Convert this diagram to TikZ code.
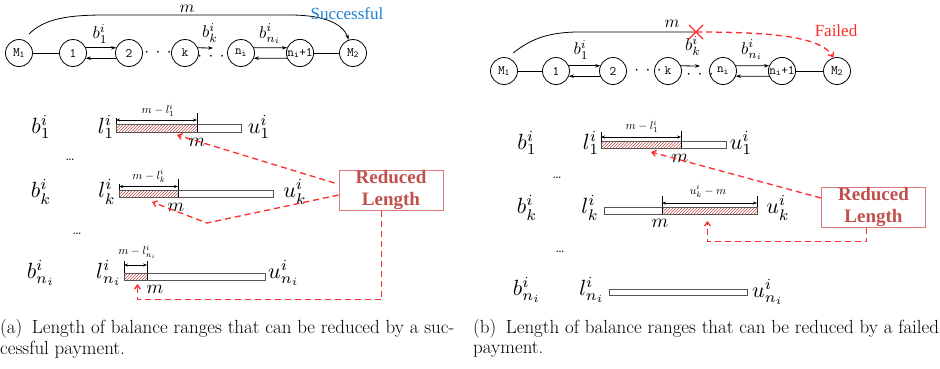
\documentclass[tikz,border=0pt]{standalone}
\usepackage{fontspec}
\newfontfamily\timesf{Liberation Serif}
\usetikzlibrary{arrows.meta,patterns}
\definecolor{blueS}{HTML}{1F7FCF}
\definecolor{redL}{HTML}{C0504D}
\definecolor{redB}{HTML}{D9797A}
\definecolor{redD}{HTML}{FF2A2A}
\definecolor{barC}{HTML}{555555}
\begin{document}
\begin{tikzpicture}[x=1pt,y=-1pt,
  nd/.style={circle,draw,line width=0.8pt,minimum size=27pt,inner sep=0pt,font=\fontsize{13}{15}\selectfont\ttfamily},
  tip/.style={-{Stealth[length=5pt,width=3.5pt]},line width=0.8pt},
  lab/.style={inner sep=0pt,scale=1.7},
  big/.style={inner sep=0pt,scale=2.2},
  mm/.style={inner sep=0pt,scale=1.9},
  dim/.style={inner sep=0pt,scale=1.15},
  dots/.style={inner sep=0pt,scale=1.4},
  dimar/.style={{Stealth[length=4pt,width=3pt]}-{Stealth[length=4pt,width=3pt]},line width=0.6pt},
  tick/.style={line width=0.6pt},
  bar/.style={draw=barC,line width=0.8pt},
  hat/.style={fill=redL!15,pattern=north east lines,pattern color=redL},
  rd/.style={draw=redD,dash pattern=on 6pt off 4pt,line width=1.3pt,-{Straight Barb[length=4pt,width=6pt]}},
  rbox/.style={draw=redB,line width=1pt,minimum width=104pt,minimum height=40pt,inner sep=0pt,align=center,text=redL,font=\fontsize{19}{22}\selectfont\timesf\bfseries},
  captext/.style={anchor=west,inner sep=0pt,font=\fontsize{19}{22}\selectfont}
]
\useasboundingbox (0,0) rectangle (940,368);

% ---------- top left ----------
\node[nd] (a1) at (19,53) {M$_\mathtt{1}$};
\node[nd] (a2) at (73,53) {1};
\node[nd] (a3) at (129,53) {2};
\node[nd] (ak) at (185,53) {k};
\node[nd] (an) at (241,53) {n$_\mathtt{i}$};
\node[nd] (an1) at (300,53) {n$_\mathtt{i}$+1};
\node[nd] (a4) at (353,53) {M$_\mathtt{2}$};
\draw[line width=0.8pt] (a1) -- (a2);
\draw[line width=0.8pt] (an1) -- (a4);
\draw[tip] (a2.22) -- (a3.158);
\draw[tip] (a3.-158) -- (a2.-22);
\draw[tip] (an.22) -- (an1.158);
\draw[tip] (an1.-158) -- (an.-22);
\coordinate (akt) at (213,48);
\draw[tip] (ak.22) -- (akt);
\node[lab] (ad1) at (158,53) {$\cdot\,\cdot\,\cdot$};
\node[lab] (ad2) at (211,57) {$\cdot\,\cdot\,\cdot$};
\node[lab] (ab1) at (100,34) {$b_1^i$};
\node[lab] (abk) at (210,33) {$b_k^i$};
\node[lab] (abn) at (270,34) {$b_{n_i}^i$};
\coordinate (ams) at (29,34);
\draw[tip] (ams) .. controls (45,18) and (70,15) .. (105,15) -- (290,15) .. controls (325,15) and (343,24) .. (a4.108);
\node[lab] (am) at (187,9) {$m$};
\node[inner sep=0pt,text=blueS,font=\fontsize{17}{20}\selectfont\timesf] (succ) at (347,14) {Successful};

% ---------- top right ----------
\node[nd] (b1) at (504,71) {M$_\mathtt{1}$};
\node[nd] (b2) at (556,71) {1};
\node[nd] (b3) at (613,71) {2};
\node[nd] (bk) at (668,71) {k};
\node[nd] (bn) at (723,71) {n$_\mathtt{i}$};
\node[nd] (bn1) at (782,71) {n$_\mathtt{i}$+1};
\node[nd] (b4) at (837,71) {M$_\mathtt{2}$};
\draw[line width=0.8pt] (b1) -- (b2);
\draw[line width=0.8pt] (bn1) -- (b4);
\draw[tip] (b2.22) -- (b3.158);
\draw[tip] (b3.-158) -- (b2.-22);
\draw[tip] (bn.22) -- (bn1.158);
\draw[tip] (bn1.-158) -- (bn.-22);
\coordinate (bkt) at (700,66);
\draw[tip] (bk.22) -- (bkt);
\node[lab] (bd1) at (648,71) {$\cdot\,\cdot\,\cdot$};
\node[lab] (bd2) at (700,75) {$\cdot\,\cdot\,\cdot$};
\node[lab] (bb1) at (581,50) {$b_1^i$};
\node[lab] (bbk) at (693,46) {$b_k^i$};
\node[lab] (bbn) at (752,50) {$b_{n_i}^i$};
\coordinate (bms) at (513,53);
\coordinate (bx) at (696,32);
\draw[line width=0.8pt] (bms) .. controls (530,40) and (545,33) .. (575,32) -- (bx);
\draw[rd] (bx) .. controls (780,32) and (822,38) .. (b4.105);
\draw[redD,line width=1.3pt] (689,25) -- (703,39) (689,39) -- (703,25);
\node[lab] (bm) at (672,24) {$m$};
\node[inner sep=0pt,text=redD,font=\fontsize{17}{20}\selectfont\timesf] (fail) at (836,31) {Failed};

% ---------- lower left ----------
\node[big] (lb1) at (41,127) {$b_1^i$};
\node[dots] (ldd1) at (70,160) {\ldots};
\node[big] (lbk) at (41,192) {$b_k^i$};
\node[big] (lbn) at (41,273) {$b_{n_i}^i$};
\node[dots] (ldd2) at (77,234) {\ldots};
% row 1
\node[big] (ll1) at (106,127) {$l_1^i$};
\filldraw[hat] (116,124) rectangle (197,132);
\draw[bar] (116,124) rectangle (241,132);
\draw[tick] (116,118) -- (116,124) (197,113) -- (197,124);
\draw[dimar] (116,120) -- (197,120);
\node[dim] (ld1) at (158,110) {$m-l_1^i$};
\node[mm] (lm1) at (197,142) {$m$};
\node[big] (lu1) at (259,127) {$u_1^i$};
% row k
\node[big] (llk) at (107,192) {$l_k^i$};
\filldraw[hat] (119,190) rectangle (178,197);
\draw[bar] (119,190) rectangle (273,197);
\draw[tick] (119,184) -- (119,190) (178,179) -- (178,190);
\draw[dimar] (119,186.5) -- (178,186.5);
\node[dim] (ldk) at (149,176) {$m-l_k^i$};
\node[mm] (lmk) at (176,207) {$m$};
\node[big] (luk) at (295,192) {$u_k^i$};
% row n
\node[big] (lln) at (109,273) {$l_{n_i}^i$};
\filldraw[hat] (124,273) rectangle (147,280);
\draw[bar] (124,273) rectangle (265,280);
\draw[tick] (124,261) -- (124,273) (147,261) -- (147,273);
\draw[dimar] (124,265) -- (147,265);
\node[dim] (ldn) at (137,252) {$m-l_{n_i}^i$};
\node[mm] (lmn) at (155,289) {$m$};
\node[big] (lun) at (284,273) {$u_{n_i}^i$};
% reduced length
\node[rbox] (rl1) at (391,190) {Reduced\\Length};
\coordinate (lt1) at (177,135);
\coordinate (lt2m) at (207,223);
\coordinate (lt2) at (152,202);
\coordinate (lc3) at (137.5,299.5);
\coordinate (lt3) at (137.5,284);
\draw[rd] ([xshift=-4pt,yshift=7pt]rl1.west) -- (lt1);
\draw[rd] ([yshift=-5pt]rl1.west) -- (lt2m) -- (lt2);
\draw[rd] ([xshift=-9.5pt]rl1.south) |- (lc3) -- (lt3);

% ---------- lower right ----------
\node[big] (rb1) at (527,143) {$b_1^i$};
\node[dots] (rdd1) at (557,178) {\ldots};
\node[big] (rbk) at (527,208) {$b_k^i$};
\node[dots] (rdd2) at (560,252) {\ldots};
\node[big] (rbn) at (527,290) {$b_{n_i}^i$};
% row 1
\node[big] (rl1l) at (591,143) {$l_1^i$};
\filldraw[hat] (601,141.5) rectangle (681,148.5);
\draw[bar] (601,141.5) rectangle (726,148.5);
\draw[tick] (601,132) -- (601,141.5) (681,131) -- (681,141.5);
\draw[dimar] (601,137) -- (681,137);
\node[dim] (rd1) at (642,126) {$m-l_1^i$};
\node[mm] (rm1) at (680,158) {$m$};
\node[big] (ru1) at (741,143) {$u_1^i$};
% row k
\node[big] (rlk) at (590,208) {$l_k^i$};
\filldraw[hat] (662,207) rectangle (757,214);
\draw[bar] (604,207) rectangle (757,214);
\draw[tick] (662,196) -- (662,207) (757,196) -- (757,207);
\draw[dimar] (662,203) -- (757,203);
\node[dim] (rdk) at (708,191) {$u_k^i-m$};
\node[mm] (rmk) at (660,223) {$m$};
\node[big] (ruk) at (778,208) {$u_k^i$};
% row n
\node[big] (rln) at (592,290) {$l_{n_i}^i$};
\draw[bar] (609,289) rectangle (747,295);
\node[big] (run) at (768,292) {$u_{n_i}^i$};
% reduced length
\node[rbox] (rl2) at (873.5,207) {Reduced\\Length};
\coordinate (rt1) at (651,152);
\coordinate (rc2) at (707.5,241.5);
\coordinate (rt2) at (707.5,221);
\draw[rd] ([yshift=9pt]rl2.west) -- (rt1);
\draw[rd] ([xshift=-7pt]rl2.south) |- (rc2) -- (rt2);

% ---------- captions ----------
\node[captext] (capa1) at (0,329) {(a)\enspace Length of balance ranges that can be reduced by a suc-};
\node[captext] (capa2) at (0,350) {cessful payment.};
\node[captext] (capb1) at (473,329) {(b)\enspace Length of balance ranges that can be reduced by a failed};
\node[captext] (capb2) at (473,350) {payment.};
\end{tikzpicture}
\end{document}
